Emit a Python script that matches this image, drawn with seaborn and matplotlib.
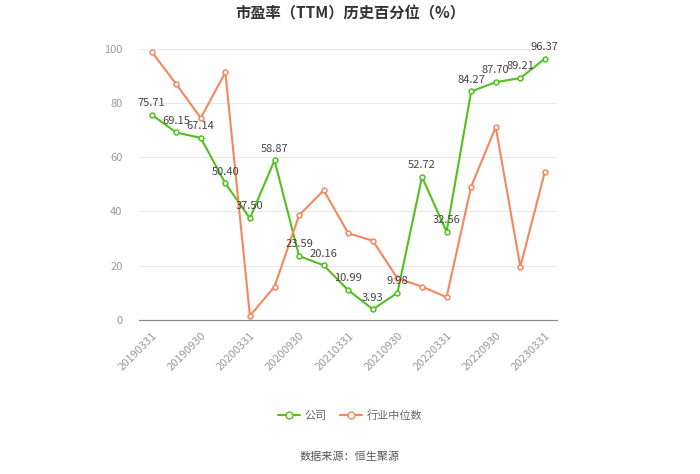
import matplotlib
matplotlib.use("Agg")
import matplotlib.pyplot as plt
import seaborn as sns
import pandas as pd
from matplotlib.lines import Line2D

dates = ["20190331", "20190630", "20190930", "20191231", "20200331", "20200630",
         "20200930", "20201231", "20210331", "20210630", "20210930", "20211231",
         "20220331", "20220630", "20220930", "20221231", "20230331"]
company = [75.71, 69.15, 67.14, 50.40, 37.50, 58.87, 23.59, 20.16, 10.99, 3.93,
           9.98, 52.72, 32.56, 84.27, 87.70, 89.21, 96.37]
industry = [99.0, 87.0, 74.5, 91.3, 1.5, 12.3, 38.6, 47.8, 32.0, 29.2,
            15.4, 12.3, 8.4, 49.2, 71.1, 19.6, 54.7]

sns.set_style("white")
plt.rcParams['font.family'] = ['Noto Sans CJK SC', 'DejaVu Sans']

green = "#52c01e"
orange = "#f5875a"

df = pd.DataFrame({"idx": list(range(len(dates))) * 2,
                   "value": company + industry,
                   "series": ["公司"] * len(dates) + ["行业中位数"] * len(dates)})

fig = plt.figure(figsize=(7, 4.74), dpi=100)
ax = fig.add_axes([0.199, 0.325, 0.597, 0.572])

sns.lineplot(data=df, x="idx", y="value", hue="series", palette=[green, orange],
             marker="o", markersize=3.5, markerfacecolor="white", markeredgewidth=1.1,
             linewidth=1.5, ax=ax, legend=False)
for line, c in zip(ax.lines, [green, orange]):
    line.set_markeredgecolor(c)

for i, v in enumerate(company):
    ax.text(i, v + 2.5, f"{v:.2f}", ha="center", va="bottom", fontsize=8, color="#444444")

ax.set_xlim(-0.5, len(dates) - 0.5)
ax.set_ylim(0, 100)
ax.set_yticks([0, 20, 40, 60, 80, 100])
ax.set_xticks(range(0, len(dates), 2))
ax.set_xticklabels(dates[::2], rotation=45, ha="right", rotation_mode="anchor")
ax.tick_params(axis="x", colors="#999999", labelsize=8, length=4, width=0.8)
ax.tick_params(axis="y", colors="#999999", labelsize=8, length=0, pad=12)
ax.yaxis.grid(True, color="#e8e8e8", linewidth=0.8)
ax.set_xlabel("")
ax.set_ylabel("")
for s in ["top", "right", "left"]:
    ax.spines[s].set_visible(False)
ax.spines["bottom"].set_color("#888888")

fig.text(0.5, 0.972, "市盈率（TTM）历史百分位（%）", ha="center", va="center",
         fontsize=11, fontweight="bold", color="#333333")

handles = [Line2D([], [], color=green, marker="o", markerfacecolor="white", markersize=5, linewidth=1.5),
           Line2D([], [], color=orange, marker="o", markerfacecolor="white", markersize=5, linewidth=1.5)]
fig.legend(handles, ["公司", "行业中位数"], loc="center", bbox_to_anchor=(0.5, 0.124),
           ncol=2, frameon=False, fontsize=8, labelcolor="#666666", handlelength=2,
           columnspacing=1.2, handletextpad=0.4)

fig.text(0.5, 0.036, "数据来源：恒生聚源", ha="center", va="center", fontsize=8, color="#555555")

fig.savefig("out.png", dpi=100)
